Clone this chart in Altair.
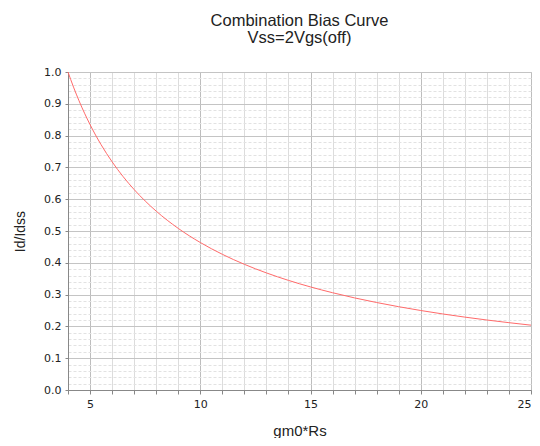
import altair as alt
import pandas as pd

# values
gm0_rs = [4, 4.25, 4.5, 5, 5.5, 6, 6.5, 7, 7.5, 8, 9, 10, 11, 12, 13, 14, 15,
          16, 17, 18, 19, 20, 21, 22, 23, 24, 25]
id_idss = [1.0, 0.9525, 0.9095, 0.8346, 0.7715, 0.7176, 0.6710, 0.6303, 0.5944,
           0.5625, 0.5082, 0.4638, 0.4267, 0.3952, 0.3682, 0.3447, 0.3241,
           0.3059, 0.2896, 0.2751, 0.2619, 0.25, 0.2391, 0.2292, 0.2201,
           0.2117, 0.2039]

x_ticks = list(range(4, 26))
y_ticks = [round(i * 0.02, 2) for i in range(0, 51)]

df = pd.DataFrame({"x": gm0_rs, "y": id_idss})

FONT = "DejaVu Sans"

x_axis = alt.Axis(
    values=x_ticks,
    labelExpr="datum.value % 5 == 0 ? datum.label : ''",
    labelFont=FONT, labelFontSize=11, labelColor="#222",
    labelPadding=4, labelFlush=True,
    tickSize=4, tickColor="#888",
    domainColor="#888",
    grid=True,
    gridColor={"condition": {"test": "datum.value % 5 == 0", "value": "#bdbdbd"},
               "value": "#dcdcdc"},
    title="gm0*Rs", titleFont="Liberation Sans", titleFontSize=15,
    titleFontWeight="normal", titleColor="#222", titlePadding=14,
)

y_axis = alt.Axis(
    values=y_ticks,
    labelExpr="round(datum.value * 50) % 5 == 0 ? format(datum.value, '.1f') : ''",
    labelFont=FONT, labelFontSize=11, labelColor="#222",
    labelPadding=4,
    tickSize=3,
    tickOpacity={"condition": {"test": "round(datum.value * 50) % 5 == 0", "value": 1},
                 "value": 0},
    tickColor="#888",
    domainColor="#888",
    grid=True,
    gridColor={"condition": {"test": "round(datum.value * 50) % 5 == 0", "value": "#c4c4c4"},
               "value": "#e2e2e2"},
    gridDash={"condition": {"test": "round(datum.value * 50) % 5 == 0", "value": []},
              "value": [3, 2]},
    title="Id/Idss", titleFont="Liberation Sans", titleFontSize=14,
    titleFontWeight="normal", titleColor="#222", titlePadding=16,
)

chart = alt.Chart(df).mark_line(color="#ff6a6a", strokeWidth=1, interpolate="monotone").encode(
    x=alt.X("x:Q", scale=alt.Scale(domain=[4, 25], nice=False), axis=x_axis),
    y=alt.Y("y:Q", scale=alt.Scale(domain=[0, 1], nice=False), axis=y_axis),
).properties(
    width=463,
    height=318,
    title=alt.TitleParams(
        ["Combination Bias Curve", "Vss=2Vgs(off)"],
        font="Liberation Sans", fontSize=16.5, fontWeight="normal",
        color="#222", anchor="middle", offset=20, lineHeight=16.5,
    ),
    autosize=alt.AutoSizeParams(type="none"),
    padding={"left": 60, "top": 64, "right": 1, "bottom": 48},
).configure_view(stroke="#c8c8c8", strokeWidth=1)

chart.save("out.html", embed_options={"renderer": "svg", "actions": False})
